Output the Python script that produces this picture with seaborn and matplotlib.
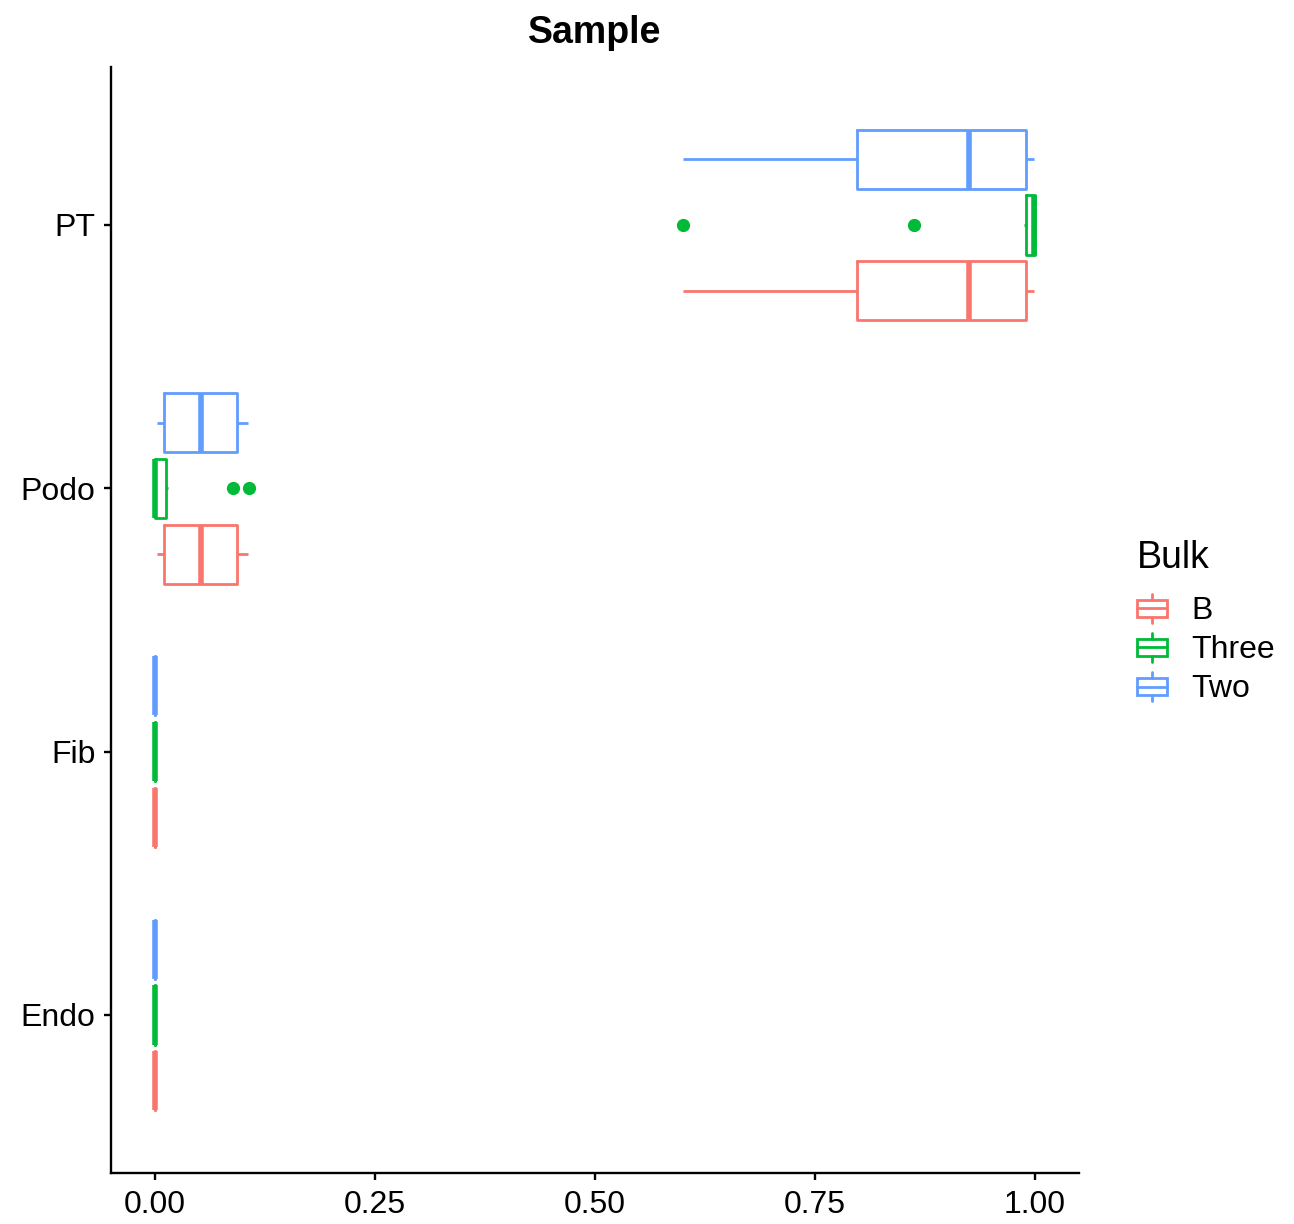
import numpy as np
import pandas as pd
import seaborn as sns
import matplotlib
matplotlib.use("Agg")
import matplotlib.pyplot as plt
from matplotlib.legend_handler import HandlerBase
from matplotlib.patches import Patch, Rectangle
from matplotlib.lines import Line2D

# ---------------- data ----------------
cell_types = ["PT", "Podo", "Fib", "Endo"]
bulk_levels = ["B", "Three", "Two"]
palette = {"B": "#F8766D", "Three": "#00BA38", "Two": "#619CFF"}

pt_b = [0.600, 0.798, 0.925, 0.990, 0.999]
pt_two = [0.600, 0.798, 0.925, 0.990, 0.999]
pt_three = [0.600, 0.862, 0.988, 0.996, 0.998, 1.000, 1.000, 1.000, 1.000, 1.000]

podo_b = [0.002, 0.010, 0.052, 0.093, 0.106]
podo_two = [0.002, 0.010, 0.052, 0.093, 0.106]
podo_three = [0.000, 0.000, 0.000, 0.000, 0.000, 0.001, 0.006, 0.015, 0.089, 0.107]

fib_b = [0.0, 0.0, 0.0, 0.0, 0.0]
fib_three = [0.0, 0.0, 0.0, 0.0, 0.0]
fib_two = [0.0, 0.0, 0.0, 0.0, 0.0]

endo_b = [0.0, 0.0, 0.0, 0.0, 0.0]
endo_three = [0.0, 0.0, 0.0, 0.0, 0.0]
endo_two = [0.0, 0.0, 0.0, 0.0, 0.0]

x_ticks = [0.0, 0.25, 0.5, 0.75, 1.0]
x_tick_labels = ["0.00", "0.25", "0.50", "0.75", "1.00"]

groups = {
    ("PT", "B"): pt_b, ("PT", "Three"): pt_three, ("PT", "Two"): pt_two,
    ("Podo", "B"): podo_b, ("Podo", "Three"): podo_three, ("Podo", "Two"): podo_two,
    ("Fib", "B"): fib_b, ("Fib", "Three"): fib_three, ("Fib", "Two"): fib_two,
    ("Endo", "B"): endo_b, ("Endo", "Three"): endo_three, ("Endo", "Two"): endo_two,
}
rows = []
for (ct, bk), vals in groups.items():
    for v in vals:
        rows.append({"Sample": ct, "Bulk": bk, "value": v})
df = pd.DataFrame(rows)

# ---------------- plot ----------------
sns.set_style("white")
plt.rcParams["font.family"] = ["Liberation Sans", "DejaVu Sans"]
plt.rcParams["text.color"] = "black"
plt.rcParams["axes.labelcolor"] = "black"
plt.rcParams["xtick.color"] = "black"
plt.rcParams["ytick.color"] = "black"

fig = plt.figure(figsize=(12.94, 12.24), dpi=100)
ax = fig.add_axes([111 / 1294, 1 - 1173 / 1224, (1079 - 111) / 1294, (1173 - 67) / 1224])

sns.boxplot(
    data=df, x="value", y="Sample", hue="Bulk",
    order=cell_types, hue_order=["Two", "Three", "B"],
    palette=palette, fill=False, width=0.75, gap=0.1,
    linewidth=2.0, showcaps=False,
    medianprops={"linewidth": 4.0},
    flierprops={"marker": "o", "markersize": 8.5},
    legend=False, ax=ax,
)

for ln in ax.lines:
    if ln.get_marker() == "o":
        ln.set_markerfacecolor(ln.get_markeredgecolor())

ax.set_xlim(-0.05, 1.05)
ax.set_ylim(3.6, -0.6)
ax.set_xticks(x_ticks)
ax.set_xticklabels(x_tick_labels)
ax.set_xlabel("")
ax.set_ylabel("")
for side in ["top", "right"]:
    ax.spines[side].set_visible(False)
for side in ["left", "bottom"]:
    ax.spines[side].set_linewidth(1.7)
    ax.spines[side].set_color("black")
ax.tick_params(axis="both", which="major", length=5, width=1.7, color="black",
               labelsize=23, labelcolor="black", direction="out",
               left=True, bottom=True)
ax.tick_params(axis="y", pad=6)
ax.tick_params(axis="x", pad=7)
ax.set_title("Sample", fontsize=27, fontweight="bold", pad=17, color="black")


class BoxHandler(HandlerBase):
    def create_artists(self, legend, orig_handle, xdescent, ydescent,
                       width, height, fontsize, trans):
        c = orig_handle.get_edgecolor()
        x0 = -xdescent
        y0 = -ydescent
        bh = height * 0.56
        by = y0 + (height - bh) / 2
        lw = 2.0
        rect = Rectangle((x0, by), width, bh, facecolor="none", edgecolor=c,
                         linewidth=lw, transform=trans)
        med = Line2D([x0, x0 + width], [y0 + height / 2] * 2, color=c, lw=lw,
                     transform=trans)
        xm = x0 + width / 2
        w1 = Line2D([xm, xm], [by + bh, y0 + height], color=c, lw=lw, transform=trans)
        w2 = Line2D([xm, xm], [y0, by], color=c, lw=lw, transform=trans)
        return [rect, med, w1, w2]


handles = [Patch(edgecolor=palette[k], facecolor="none") for k in bulk_levels]
leg = fig.legend(
    handles, bulk_levels, title="Bulk", loc="center left",
    bbox_to_anchor=(1137 / 1294, 1 - 622 / 1224), frameon=False,
    fontsize=23, title_fontsize=27, handler_map={Patch: BoxHandler()},
    handlelength=0.95, handleheight=1.05, labelspacing=0.2, handletextpad=0.75,
    borderpad=0, borderaxespad=0, alignment="left",
)
leg._legend_box.sep = 13
for t in leg.get_texts():
    t.set_color("black")
leg.get_title().set_color("black")

fig.savefig("out.png", dpi=100)
